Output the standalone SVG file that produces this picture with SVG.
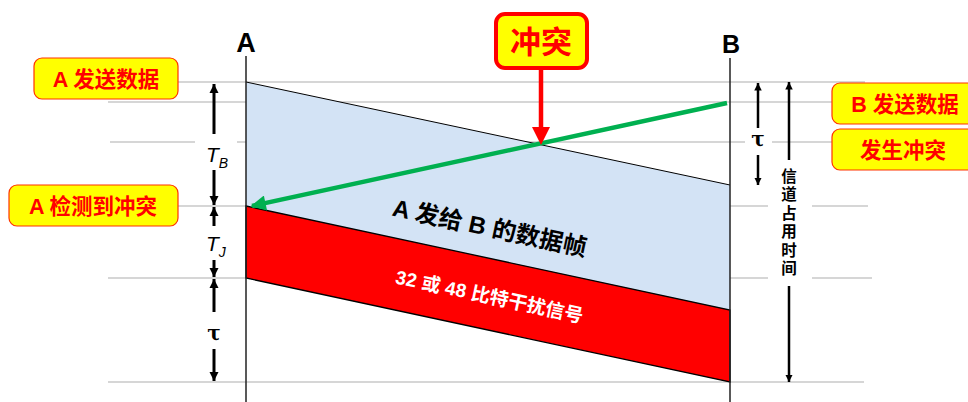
<svg xmlns="http://www.w3.org/2000/svg" width="968" height="402" viewBox="0 0 968 402">
<style>
.grid{stroke:#c8c8c8;stroke-width:1.5;fill:none}
.lbl{fill:#ffff00;stroke:#ff3300;stroke-width:1.2}
.lbltxt{font-family:"Liberation Sans","Noto Sans CJK SC",sans-serif;font-weight:bold;font-size:21.5px;fill:#ff0000;text-anchor:middle}
.dim{stroke:#000;stroke-width:3;fill:none}
.dim2{stroke:#000;stroke-width:2.5;fill:none}
.sym{font-family:"Liberation Sans","DejaVu Sans",sans-serif;font-style:italic;font-size:21px;fill:#000}
.tau{font-family:"DejaVu Serif","Liberation Serif",serif;font-weight:bold;font-size:20px;fill:#000;text-anchor:middle}
.vt{font-family:"Noto Sans CJK SC",sans-serif;font-weight:bold;font-size:15.5px;fill:#000;writing-mode:vertical-rl;letter-spacing:3px}
</style>
<defs>
<marker id="ah" viewBox="0 0 10 10" refX="10" refY="5" markerWidth="3" markerHeight="3.2" orient="auto" markerUnits="strokeWidth">
<path d="M0,0 L10,5 L0,10 z" fill="#000"/>
</marker>
<marker id="ahg" viewBox="0 0 10 10" refX="9" refY="5" markerWidth="4.5" markerHeight="3.4" orient="auto" markerUnits="strokeWidth">
<path d="M0,0 L10,5 L0,10 z" fill="#00b050"/>
</marker>
</defs>
<rect width="968" height="402" fill="#fff"/>
<g id="gridlines">
<line class="grid" x1="178" y1="82" x2="865" y2="82"/>
<line class="grid" x1="108" y1="102" x2="832" y2="102"/>
<line class="grid" x1="110" y1="142" x2="195" y2="142"/>
<line class="grid" x1="237" y1="142" x2="745" y2="142"/>
<line class="grid" x1="772" y1="142" x2="832" y2="142"/>
<line class="grid" x1="178" y1="206" x2="768" y2="206"/>
<line class="grid" x1="812" y1="206" x2="868" y2="206"/>
<line class="grid" x1="108" y1="278" x2="768" y2="278"/>
<line class="grid" x1="812" y1="278" x2="872" y2="278"/>
<line class="grid" x1="108" y1="382" x2="864" y2="382"/>
</g>
<g id="frame-blue">
<polygon points="246,82 730,185 730,310 246,206" fill="#d3e3f5"/>
<line x1="246" y1="82" x2="730" y2="185" stroke="#000" stroke-width="1"/>
</g>
<g id="jam-red">
<polygon points="246,206 730,310 730,382 246,278" fill="#ff0000" stroke="#000" stroke-width="1.3"/>
</g>
<g id="timelines">
<line x1="246" y1="56" x2="246" y2="402" stroke="#222" stroke-width="1.5"/>
<line x1="730" y1="58" x2="730" y2="402" stroke="#222" stroke-width="1.5"/>
<text x="246" y="52" font-family="Liberation Sans,sans-serif" font-weight="bold" font-size="27" text-anchor="middle">A</text>
<text x="731" y="53" font-family="Liberation Sans,sans-serif" font-weight="bold" font-size="25" text-anchor="middle">B</text>
</g>
<g id="connectors">
<line x1="727" y1="103" x2="252" y2="206" stroke="#00b050" stroke-width="4.5" marker-end="url(#ahg)"/>
<line x1="541" y1="70" x2="541" y2="127" stroke="#ff0000" stroke-width="4.5"/>
<polygon points="532,127 550,127 541,145" fill="#ff0000"/>
<line class="dim" x1="214" y1="134" x2="214" y2="84" marker-end="url(#ah)"/>
<line class="dim" x1="214" y1="170" x2="214" y2="205" marker-end="url(#ah)"/>
<line class="dim" x1="214" y1="226" x2="214" y2="207" marker-end="url(#ah)"/>
<line class="dim" x1="214" y1="260" x2="214" y2="277" marker-end="url(#ah)"/>
<line class="dim" x1="214" y1="312" x2="214" y2="279" marker-end="url(#ah)"/>
<line class="dim" x1="214" y1="349" x2="214" y2="381" marker-end="url(#ah)"/>
<line class="dim2" x1="758" y1="128" x2="758" y2="83" marker-end="url(#ah)"/>
<line class="dim2" x1="758" y1="155" x2="758" y2="185" marker-end="url(#ah)"/>
<line class="dim2" x1="789" y1="160" x2="789" y2="82" marker-end="url(#ah)"/>
<line class="dim2" x1="789" y1="286" x2="789" y2="382" marker-end="url(#ah)"/>
</g>
<g id="dim-labels">
<text class="sym" x="206" y="162">T<tspan font-size="14" dy="6">B</tspan></text>
<text class="sym" x="206" y="251">T<tspan font-size="14" dy="6">J</tspan></text>
<text class="tau" x="214" y="340">τ</text>
<text class="tau" x="758" y="146">τ</text>
<text class="vt" x="789" y="168">信道占用时间</text>
</g>
<g id="frame-text">
<text transform="translate(488,236) rotate(12)" font-family="Liberation Sans,Noto Sans CJK SC,sans-serif" font-weight="bold" font-size="24" text-anchor="middle" fill="#000">A 发给 B 的数据帧</text>
<text transform="translate(488,303) rotate(12)" font-family="Liberation Sans,Noto Sans CJK SC,sans-serif" font-weight="bold" font-size="19" text-anchor="middle" fill="#fff">32 或 48 比特干扰信号</text>
</g>
<g id="node-collision">
<rect x="496" y="14" width="91" height="54" rx="9" fill="#ffff00" stroke="#ff0000" stroke-width="4"/>
<text x="541" y="53" font-family="Noto Sans CJK SC,sans-serif" font-weight="bold" font-size="31" text-anchor="middle" fill="#ff0000">冲突</text>
</g>
<g id="node-a-send">
<rect class="lbl" x="34" y="58" width="144" height="41" rx="8"/>
<text class="lbltxt" x="106" y="87">A 发送数据</text>
</g>
<g id="node-a-detect">
<rect class="lbl" x="9" y="185" width="169" height="41" rx="8"/>
<text class="lbltxt" x="93" y="214">A 检测到冲突</text>
</g>
<g id="node-b-send">
<rect class="lbl" x="832" y="83" width="150" height="41" rx="8"/>
<text class="lbltxt" x="905" y="112">B 发送数据</text>
</g>
<g id="node-b-collide">
<rect class="lbl" x="832" y="129" width="150" height="41" rx="8"/>
<text class="lbltxt" x="903" y="158">发生冲突</text>
</g>
</svg>
